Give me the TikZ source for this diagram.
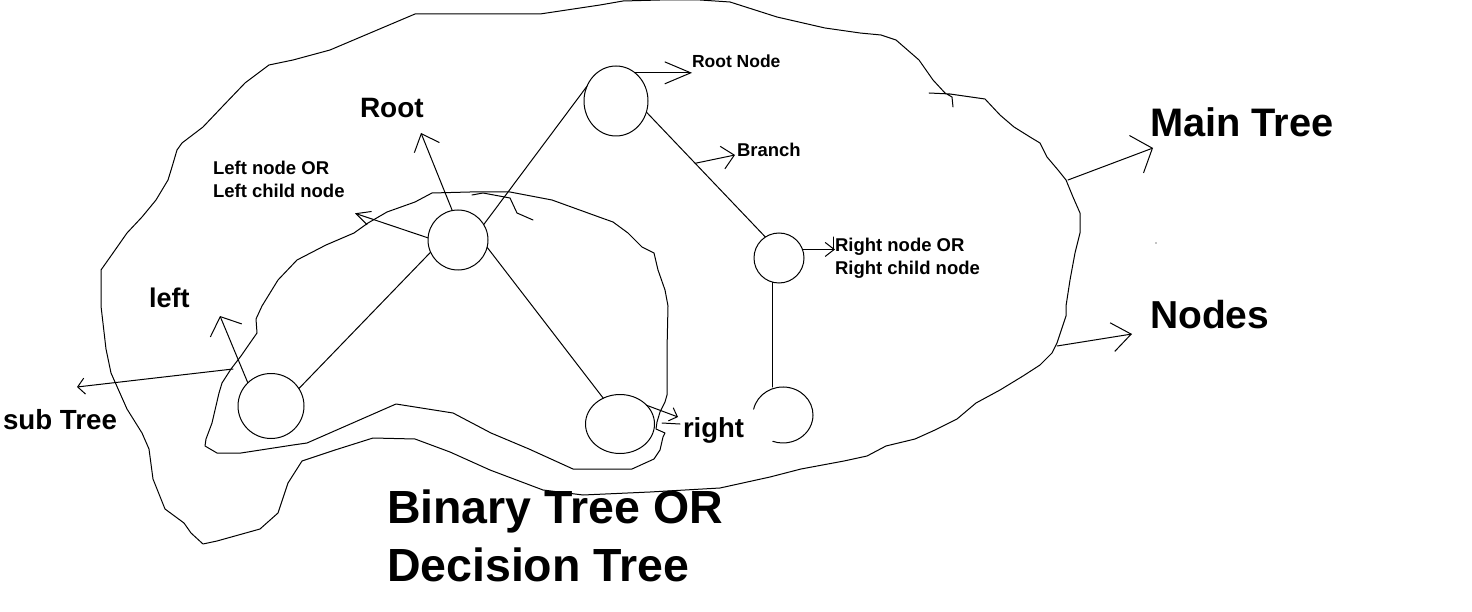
\documentclass[tikz,border=0pt]{standalone}
\usepackage{fontspec}
\setmainfont{Liberation Sans}
\usetikzlibrary{shapes.geometric,arrows.meta,calc}
\newcommand\fsz[2]{\fontsize{#1}{#2}\selectfont\bfseries}
\tikzset{
  ln/.style={draw=black, line width=1pt, line join=round, line cap=round},
  ell/.style={ellipse, draw=black, line width=1pt, inner sep=0pt, outer sep=0pt},
  hid/.style={ellipse, draw=none, inner sep=0pt, outer sep=0pt},
  lbl/.style={inner sep=0pt, outer sep=0pt, anchor=base west},
  mlbl/.style={inner sep=0pt, outer sep=0pt, anchor=west, align=left},
  arr/.style 2 args={ln, -{Straight Barb[length=#1pt, width=#2pt, line width=1pt]}}
}
\begin{document}
\begin{tikzpicture}[x=1pt, y=-1pt]
\useasboundingbox (0,0) rectangle (1472,612);
\fill[white] (0,0) rectangle (1472,612);

% outer blob (main tree)
\draw[ln] (929,93) -- (950,94) -- (971,97) -- (985,99) -- (1000,115) -- (1014,127) -- (1030,137) -- (1040,143) -- (1047,157) -- (1058,170) -- (1066,180) -- (1073,197) -- (1080,213) -- (1080,233) -- (1075,253) -- (1070,280) -- (1066,306) -- (1066,316) -- (1057,343) -- (1052,353) -- (1040,365) -- (1023,376) -- (1000,390) -- (976,403) -- (957,419) -- (935,430) -- (915,439) -- (886,446) -- (867,456) -- (844,461) -- (801,469) -- (770,477) -- (720,488) -- (650,492) -- (583,495) -- (543,490) -- (490,470) -- (450,452) -- (415,439) -- (373,438) -- (335,450) -- (302,461) -- (288,483) -- (278,513) -- (260,529) -- (217,541) -- (203,544) -- (191,533) -- (184,523) -- (165,509) -- (153,479) -- (149,449) -- (142,433) -- (127,409) -- (111,373) -- (106,349) -- (101,306) -- (101,270) -- (113,253) -- (127,233) -- (142,217) -- (156,200) -- (168,180) -- (172,167) -- (177,150) -- (182,143) -- (203,127) -- (222,107) -- (245,83) -- (269,65) -- (293,60) -- (330,50) -- (415,14) -- (540,14) -- (600,5) -- (623,1) -- (660,0) -- (700,0) -- (730,2) -- (777,17) -- (825,28) -- (860,33) -- (881,35) -- (896,40) -- (919,60) -- (933,80) -- (945,93) -- (952,97) -- (953,107);

% inner blob (sub tree)
\draw[ln] (432,193) -- (470,192) -- (510,192) -- (552,200) -- (599,217) -- (613,222) -- (628,233) -- (642,247) -- (654,253) -- (658,270) -- (665,290) -- (668,306) -- (667,350) -- (667,395) -- (665,402) -- (660,412) -- (657,422) -- (656,429) -- (665,433) -- (663,437) -- (660,450) -- (654,459) -- (632,469) -- (573,469) -- (529,449) -- (491,433) -- (453,413) -- (396,404) -- (307,443) -- (293,445) -- (241,453) -- (217,453) -- (205,446) -- (206,439) -- (212,423) -- (219,393) -- (222,383) -- (231,369) -- (241,356) -- (250,343) -- (257,333) -- (256,319) -- (262,306) -- (278,280) -- (297,260) -- (326,245) -- (354,233) -- (368,223) -- (387,212) -- (415,202) -- cycle;

% small hook stroke
\draw[ln] (472,195) -- (483,193) -- (510,198) -- (517,213) -- (533,220);
% stray strokes
\draw[ln] (662,423) -- (680,424);
\draw[ln] (833,237) -- (833,250);
\fill (1156,243) circle[radius=0.7];

% blob anchor points for annotation arrows
\coordinate (mt0) at (1068,180);
\coordinate (nd0) at (1057,346);
\coordinate (st0) at (233,369);

% tree nodes
\node[ell, minimum width=64, minimum height=70] (R) at (616,101) {};
\node[ell, minimum width=60, minimum height=60] (L) at (458,240) {};
\node[ell, minimum width=50, minimum height=50] (Rc) at (779,258) {};
\node[ell, minimum width=66, minimum height=65] (LL) at (271,406) {};
\node[ell, minimum width=69, minimum height=59] (LR) at (620,424) {};
\node[hid, minimum width=60, minimum height=56] (RR) at (783,415) {};
\draw[ln] (RR.center) ++(-168:30 and 28) arc[start angle=-168, end angle=110, x radius=30, y radius=28];

% branches
\draw[ln] (R.153) -- (L.31);
\draw[ln] (R.-20) -- (Rc.123) coordinate[pos=0.41] (brpt);
\draw[ln] (L.204) -- (LL.32);
\draw[ln] (L.-14) -- (LR.123);
\draw[ln] (Rc.256) -- (Rc.256 |- RR.north);

% labels
\node[lbl, font=\fsz{17.5}{21}] (rnl) at (692,67.5) {Root Node};
\node[lbl, font=\fsz{28}{33}] (rootl) at (360,118) {Root};
\node[mlbl, font=\fsz{18.5}{23}] (lnl) at (213,179.5) {Left node OR\\Left child node};
\node[lbl, font=\fsz{18.5}{22}] (brl) at (737,157) {Branch};
\node[mlbl, font=\fsz{18.5}{23}] (rcl) at (835,258.5) {Right node OR\\Right child node};
\node[lbl, font=\fsz{39.8}{46}] (mtl) at (1150,137) {Main Tree};
\node[lbl, font=\fsz{39}{46}] (ndl) at (1150,328) {Nodes};
\node[lbl, font=\fsz{27}{32}] (leftl) at (149,308) {left};
\node[lbl, font=\fsz{27.7}{32}] (stl) at (3,429) {sub Tree};
\node[lbl, font=\fsz{27.5}{32}] (rtl) at (683,437) {right};
\node[mlbl, font=\fsz{46.5}{58}] (btl) at (387,535.9) {Binary Tree OR\\Decision Tree};

% annotation arrows
\draw[arr={26}{22}] (R.56) -- (R.56 -| rnl.base west);
\draw[arr={12}{23}] (brpt) -- ($(brl.base west)+(-2,-2)$);
\draw[arr={9}{14}] (Rc.20) -- (Rc.20 -| rcl.west);
\draw[arr={17}{40}] (mt0) -- ($(mtl.base west)+(3,11)$);
\draw[arr={19}{29}] (nd0) -- ($(ndl.base west)+(-18,6)$);
\draw[arr={15}{27}] (L.101) -- ($(rootl.base west)+(61,15)$);
\draw[arr={14}{14}] (L.176) -- ($(lnl.south west)+(142,15.5)$);
\draw[arr={15}{34}] (LL.135) -- ($(leftl.base west)+(71,8)$);
\draw[arr={7}{16}] (st0) -- ($(stl.base west)+(74,-42)$);
\draw[arr={7}{14}] (LR.35) -- ($(rtl.base west)+(-5,-20)$);
\end{tikzpicture}
\end{document}
